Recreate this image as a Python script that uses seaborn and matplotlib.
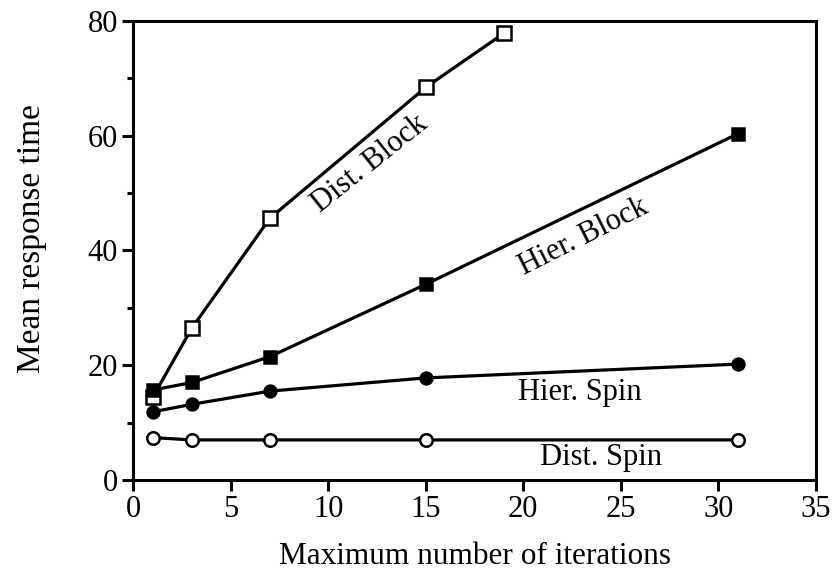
import matplotlib
matplotlib.use("Agg")
import matplotlib.pyplot as plt
import seaborn as sns
import pandas as pd
from matplotlib.ticker import MultipleLocator

# Measured mean response times against the iteration cap
dist_block_x = [1, 3, 7, 15, 19]
dist_block_y = [14.5, 26.5, 45.6, 68.4, 77.8]
hier_block_x = [1, 3, 7, 15, 31]
hier_block_y = [15.7, 17.0, 21.5, 34.1, 60.3]
hier_spin_x = [1, 3, 7, 15, 31]
hier_spin_y = [11.9, 13.2, 15.5, 17.8, 20.2]
dist_spin_x = [1, 3, 7, 15, 31]
dist_spin_y = [7.4, 7.0, 7.0, 7.0, 7.0]

x_ticks = [0, 5, 10, 15, 20, 25, 30, 35]
y_ticks = [0, 20, 40, 60, 80]

sns.set_style("ticks")
plt.rcParams["font.family"] = ["Liberation Serif", "DejaVu Serif"]
plt.rcParams.update({
    "font.size": 22,
    "text.color": "black",
    "axes.labelcolor": "black",
    "xtick.color": "black",
    "ytick.color": "black",
})

FS = 22

fig = plt.figure(figsize=(8.34, 5.75), dpi=100)
ax = fig.add_axes([0.16, 0.165, 0.818, 0.799])

series = [
    ("Dist. Block", dist_block_x, dist_block_y, "s", "white", 10),
    ("Hier. Block", hier_block_x, hier_block_y, "s", "black", 9),
    ("Hier. Spin", hier_spin_x, hier_spin_y, "o", "black", 8.5),
    ("Dist. Spin", dist_spin_x, dist_spin_y, "o", "white", 9),
]

for name, xs, ys, mk, face, ms in series:
    df = pd.DataFrame({"iterations": xs, "time": ys})
    sns.lineplot(data=df, x="iterations", y="time", ax=ax, color="black",
                 linewidth=2.3, marker=mk, markersize=ms,
                 markerfacecolor=face, markeredgecolor="black",
                 markeredgewidth=1.8, zorder=3)

# In-plot series labels
ax.text(12.1, 55.0, "Dist. Block", rotation=38.5, ha="center", va="center",
        fontsize=FS, rotation_mode="anchor")
ax.text(23.1, 42.3, "Hier. Block", rotation=26.6, ha="center", va="center",
        fontsize=FS, rotation_mode="anchor")
ax.text(22.9, 15.2, "Hier. Spin", ha="center", va="center", fontsize=FS)
ax.text(24.0, 3.9, "Dist. Spin", ha="center", va="center", fontsize=FS)

ax.set_xlim(0, 35)
ax.set_ylim(0, 80)
ax.set_xticks(x_ticks)
ax.set_yticks(y_ticks)
ax.yaxis.set_minor_locator(MultipleLocator(10))

ax.set_xlabel("Maximum number of iterations", fontsize=FS + 0.5, labelpad=13)
ax.set_ylabel("Mean response time", fontsize=24)
ax.yaxis.set_label_coords(-0.127, 0.525)

for sp in ax.spines.values():
    sp.set_linewidth(2.2)
    sp.set_color("black")

ax.tick_params(axis="both", which="major", direction="out", length=8,
               width=2.2, labelsize=FS, color="black", pad=3)
ax.tick_params(axis="y", which="minor", direction="out", length=4.5,
               width=2.2, color="black")
ax.tick_params(top=False, right=False)

fig.savefig("out.png", dpi=100, facecolor="white")
